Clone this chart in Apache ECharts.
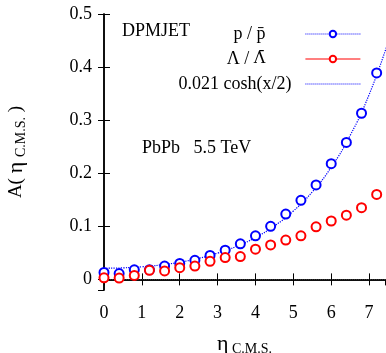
<!DOCTYPE html>
<html>
<head>
<meta charset="utf-8">
<script src="https://cdn.jsdelivr.net/npm/echarts@6/dist/echarts.min.js"></script>
<style>
  html, body { margin: 0; padding: 0; background: #fff; }
  #chart { width: 386px; height: 353px; }
</style>
</head>
<body>
<div id="chart"></div>
<script>
// eta positions of the DPMJET points
const etaValues = [0, 0.4, 0.8, 1.2, 1.6, 2.0, 2.4, 2.8, 3.2, 3.6, 4.0, 4.4, 4.8, 5.2, 5.6, 6.0, 6.4, 6.8, 7.2]
// p / pbar asymmetry and its (tiny) error bars
const protonValues = [0.013, 0.011, 0.018, 0.018, 0.025, 0.030, 0.036, 0.045, 0.055, 0.067, 0.082, 0.100, 0.123, 0.149, 0.178, 0.218, 0.258, 0.313, 0.389]
const protonErrors = [0.004, 0.004, 0.004, 0.004, 0.004, 0.004, 0.004, 0.004, 0.004, 0.004, 0.004, 0.004, 0.004, 0.004, 0.004, 0.004, 0.004, 0.004, 0.004]
// Lambda / Lambdabar asymmetry and its error bars
const lambdaValues = [0.003, 0.0025, 0.0075, 0.017, 0.016, 0.022, 0.025, 0.034, 0.041, 0.043, 0.057, 0.065, 0.074, 0.082, 0.099, 0.110, 0.121, 0.135, 0.160]
const lambdaErrors = [0.004, 0.004, 0.004, 0.004, 0.004, 0.004, 0.004, 0.004, 0.004, 0.004, 0.004, 0.004, 0.004, 0.004, 0.004, 0.004, 0.004, 0.004, 0.005]
// dotted curve
const curveEta = [0, 0.5, 1, 1.5, 2, 2.5, 3, 3.5, 4, 4.5, 5, 5.5, 6, 6.5, 7, 7.5]
const curveValues = [0.021, 0.0217, 0.0237, 0.0272, 0.0324, 0.0397, 0.0494, 0.0622, 0.079, 0.1007, 0.1288, 0.1649, 0.2114, 0.2712, 0.348, 0.4467]

const seriesNames = ["p / p\u0304", "\u039B / \u039B\u0304", "0.021 cosh(x/2)"]

const FONT = "Liberation Serif"
const BLUE = "#0000ff"
const RED = "#ff0000"

const chart = echarts.init(document.getElementById("chart"))

const zip = (xs, ys) => xs.map((x, i) => [x, ys[i]])
const errorData = (xs, ys, errs) => xs.map((x, i) => [x, ys[i] - errs[i], ys[i] + errs[i]])

// 误差棒：竖线加上下短横
function renderErrorBar (params, api) {
  const lo = api.coord([api.value(0), api.value(1)])
  const hi = api.coord([api.value(0), api.value(2)])
  const half = 2.5
  const style = { stroke: api.visual("color"), lineWidth: 1 }
  return {
    type: "group",
    children: [
      { type: "line", shape: { x1: lo[0], y1: lo[1], x2: hi[0], y2: hi[1] }, style: style },
      { type: "line", shape: { x1: lo[0] - half, y1: lo[1], x2: lo[0] + half, y2: lo[1] }, style: style },
      { type: "line", shape: { x1: hi[0] - half, y1: hi[1], x2: hi[0] + half, y2: hi[1] }, style: style }
    ]
  }
}

const axisLine = { show: true, lineStyle: { color: "#000", width: 1.5 } }
const axisTick = { show: true, inside: true, length: 6, lineStyle: { color: "#000", width: 1 } }
const labelStyle = { color: "#000", fontFamily: FONT, fontSize: 18 }
const nameRich = {
  e: { fontFamily: FONT, fontSize: 22, color: "#000" },
  s: { fontFamily: FONT, fontSize: 14, color: "#000", padding: [9, 0, 0, 0] }
}

const option = {
  animation: false,
  grid: { left: 104, right: 1, top: 14, bottom: 63, outerBoundsMode: "none" },
  legend: {
    orient: "vertical",
    align: "right",
    right: 25,
    top: 25,
    padding: 0,
    itemWidth: 55,
    itemHeight: 8,
    itemGap: 7,
    selectedMode: false,
    textStyle: { color: "#000", fontFamily: FONT, fontSize: 18, lineHeight: 14 },
    formatter: (name) => {
      // 反粒子的横线用 DejaVu 画，组合符号位置更准
      if (name === seriesNames[1]) {
        return "\u039B / {bar|\u039B\u0304}"
      }
      return name
    },
    data: [
      {
        name: seriesNames[0],
        lineStyle: { opacity: 1, type: "dotted", width: 1, color: BLUE },
        textStyle: { padding: [0, 35, 0, 0] }
      },
      {
        name: seriesNames[1],
        lineStyle: { opacity: 1, type: "solid", width: 1.2, color: RED },
        textStyle: {
          padding: [0, 35, 0, 0],
          rich: { bar: { fontFamily: "DejaVu Serif", fontSize: 16, color: "#000" } }
        }
      },
      {
        name: seriesNames[2],
        itemStyle: { opacity: 0 },
        lineStyle: { width: 1 },
        textStyle: { padding: [0, 9, 0, 0] }
      }
    ]
  },
  graphic: [
    {
      type: "text",
      left: 122,
      top: 22,
      style: { text: "DPMJET", fill: "#000", font: "18px " + FONT }
    },
    {
      type: "text",
      left: 142,
      top: 139,
      style: { text: "PbPb   5.5 TeV", fill: "#000", font: "18px " + FONT }
    }
  ],
  xAxis: [
    {
      type: "value",
      min: 0,
      max: 7.42,
      interval: 1,
      position: "bottom",
      axisLine: axisLine,
      axisTick: axisTick,
      splitLine: { show: false },
      axisLabel: { ...labelStyle, margin: 14, showMaxLabel: false },
      name: "{e|\u03B7} {s|C.M.S.}",
      nameLocation: "middle",
      nameGap: 43,
      nameTextStyle: { rich: nameRich }
    },
    {
      type: "value",
      min: 0,
      max: 7.42,
      interval: 1,
      position: "top",
      axisLine: axisLine,
      axisTick: axisTick,
      splitLine: { show: false },
      axisLabel: { show: false }
    }
  ],
  yAxis: [
    {
      type: "value",
      min: -0.02,
      max: 0.5,
      splitNumber: 5,
      minInterval: 0.1,
      maxInterval: 0.1,
      position: "left",
      axisLine: axisLine,
      axisTick: axisTick,
      splitLine: { show: false },
      axisLabel: { ...labelStyle, margin: 12, showMinLabel: false },
      name: "A( {e|\u03B7} {s|C.M.S.} )",
      nameLocation: "middle",
      nameGap: 76,
      nameTextStyle: {
        color: "#000",
        fontFamily: FONT,
        fontSize: 19,
        rich: nameRich
      }
    },
    {
      type: "value",
      min: -0.02,
      max: 0.5,
      splitNumber: 5,
      minInterval: 0.1,
      maxInterval: 0.1,
      position: "right",
      axisLine: axisLine,
      axisTick: axisTick,
      splitLine: { show: false },
      axisLabel: { show: false }
    }
  ],
  series: [
    {
      name: seriesNames[0],
      type: "line",
      data: zip(etaValues, protonValues),
      symbol: "emptyCircle",
      symbolSize: 9,
      showAllSymbol: true,
      itemStyle: { color: BLUE, borderWidth: 1 },
      lineStyle: { opacity: 0 },
      z: 4
    },
    {
      name: "proton errors",
      type: "custom",
      renderItem: renderErrorBar,
      data: errorData(etaValues, protonValues, protonErrors),
      itemStyle: { color: BLUE },
      encode: { x: 0, y: [1, 2] },
      silent: true,
      z: 4
    },
    {
      name: seriesNames[1],
      type: "line",
      data: zip(etaValues, lambdaValues),
      symbol: "emptyCircle",
      symbolSize: 9,
      showAllSymbol: true,
      itemStyle: { color: RED, borderWidth: 1 },
      lineStyle: { opacity: 0 },
      z: 5
    },
    {
      name: "lambda errors",
      type: "custom",
      renderItem: renderErrorBar,
      data: errorData(etaValues, lambdaValues, lambdaErrors),
      itemStyle: { color: RED },
      encode: { x: 0, y: [1, 2] },
      silent: true,
      z: 5
    },
    {
      name: seriesNames[2],
      type: "line",
      data: zip(curveEta, curveValues),
      smooth: true,
      symbol: "none",
      lineStyle: { color: BLUE, type: "dotted", width: 1.2 },
      itemStyle: { color: BLUE },
      z: 3,
      // 零线
      markLine: {
        silent: true,
        symbol: "none",
        label: { show: false },
        lineStyle: { color: "#333", type: "dotted", width: 1 },
        data: [{ yAxis: 0 }]
      }
    }
  ]
}

chart.setOption(option)
</script>
</body>
</html>
